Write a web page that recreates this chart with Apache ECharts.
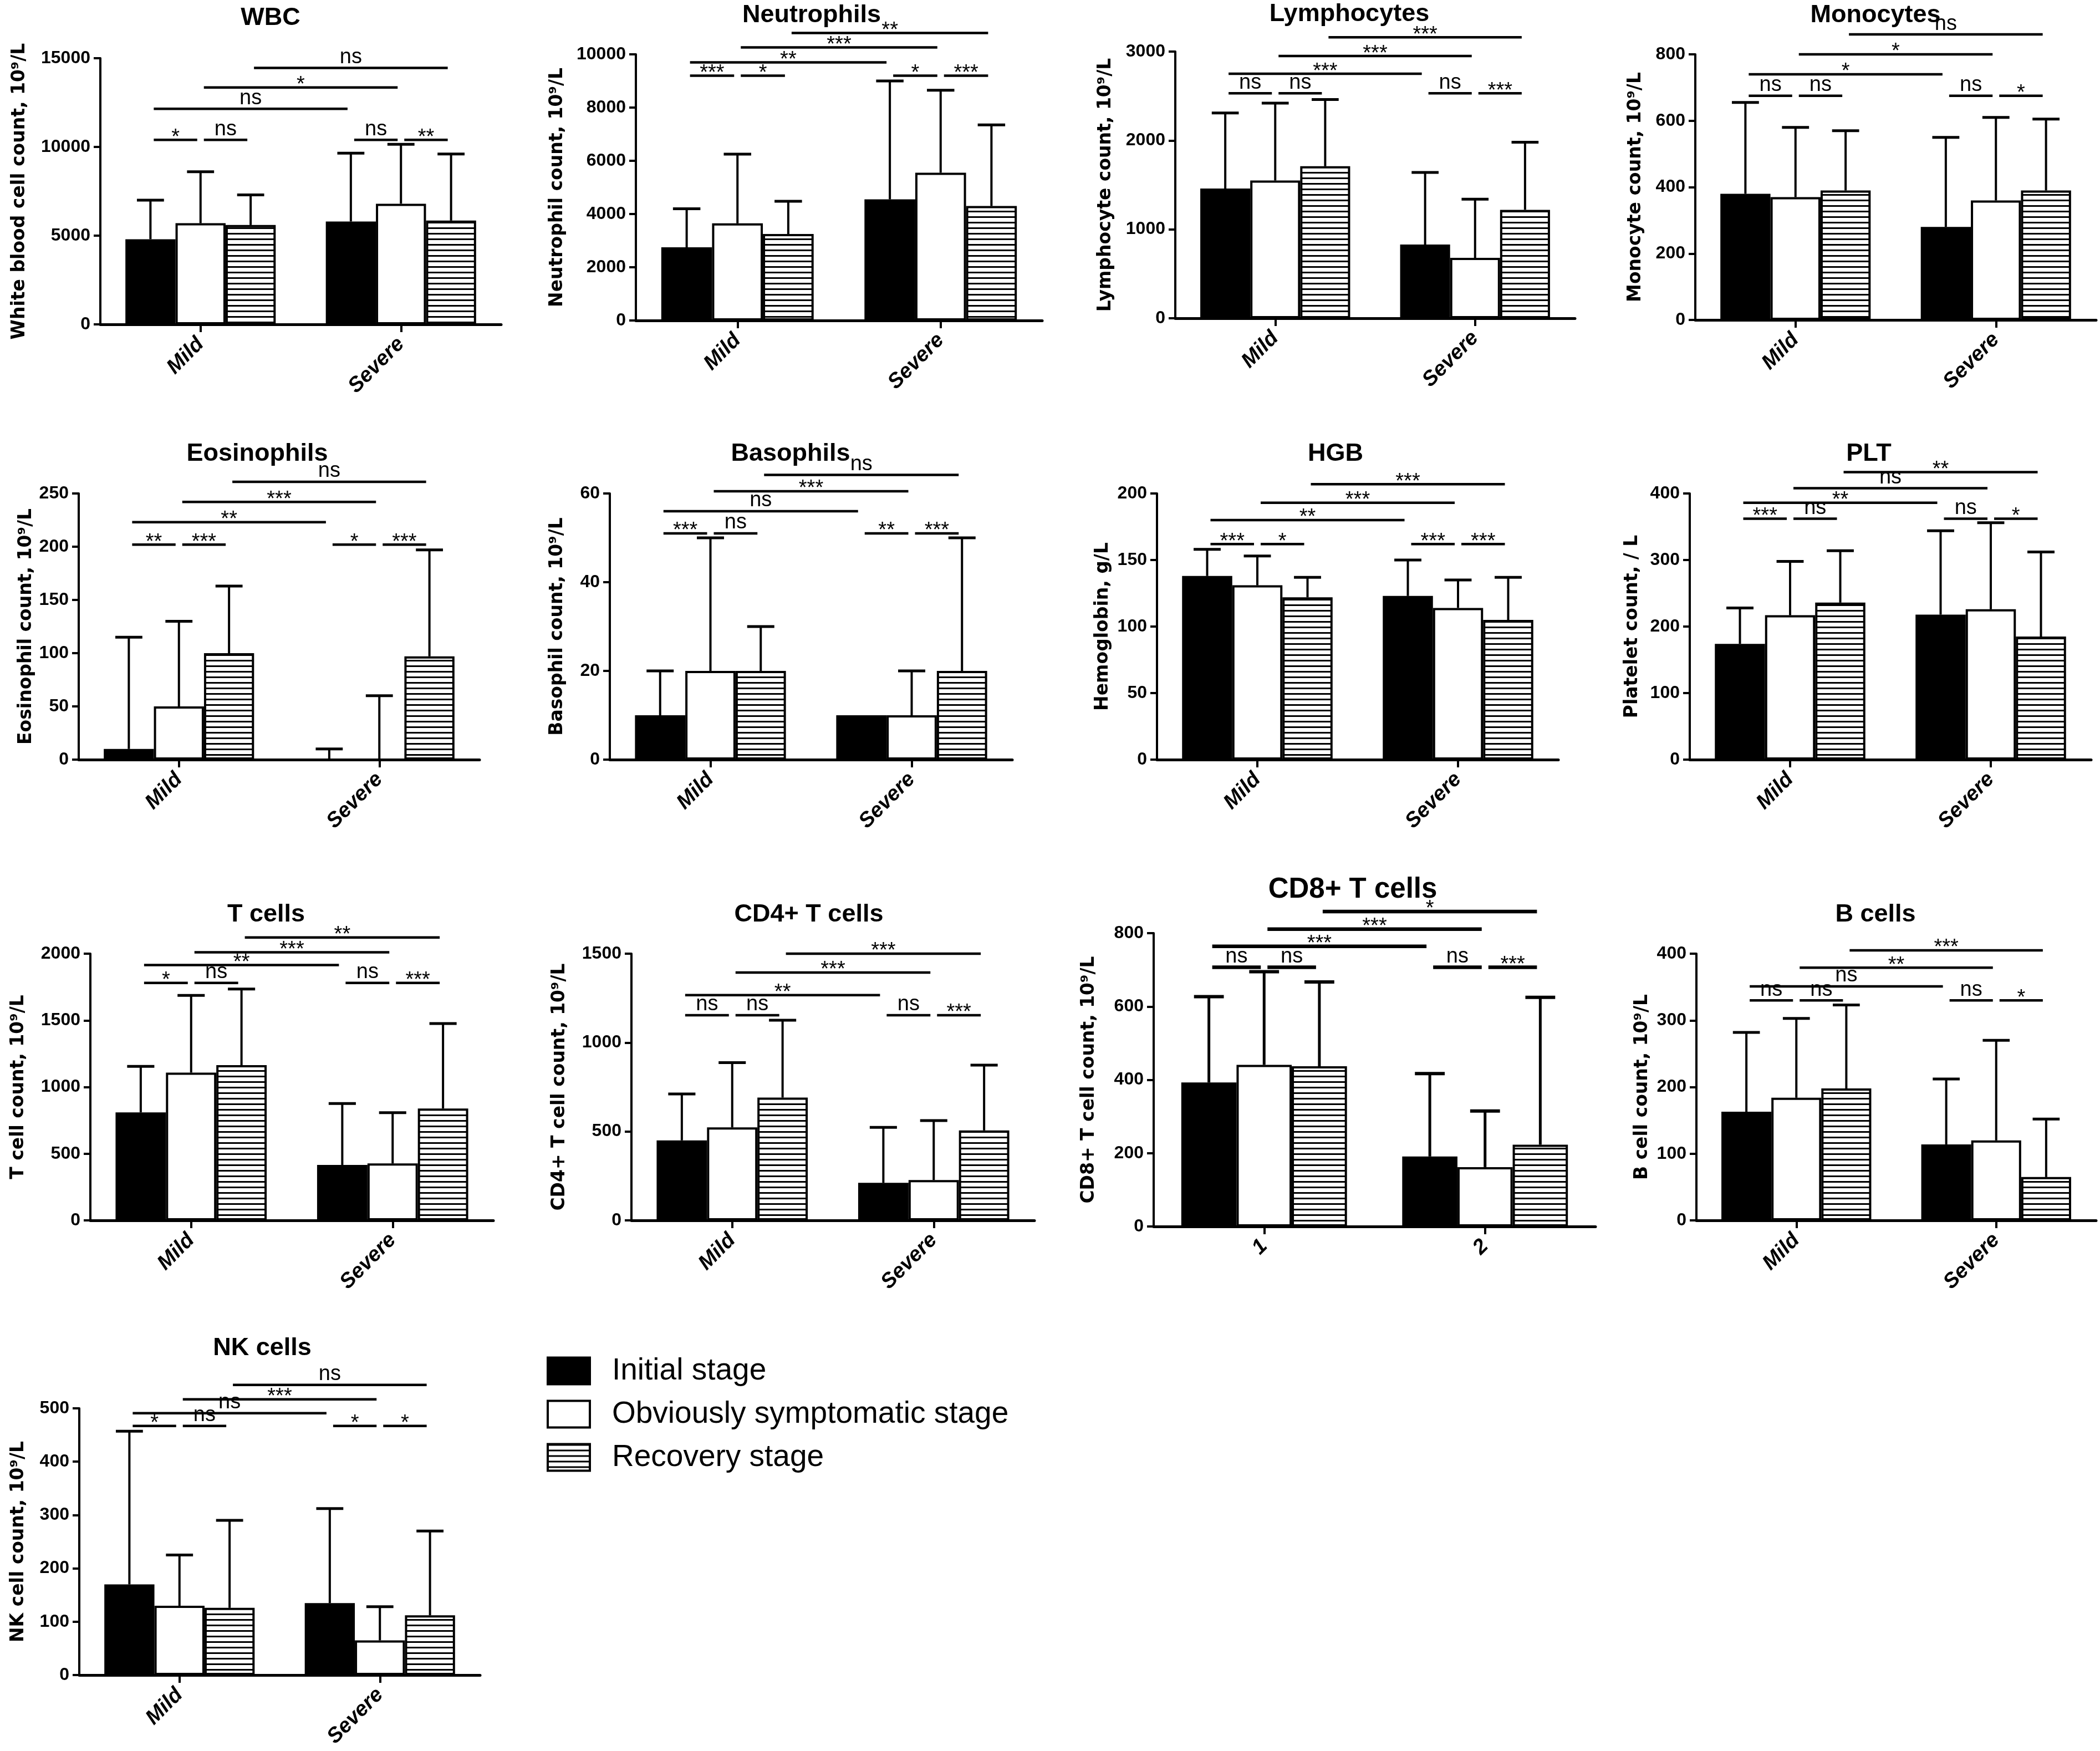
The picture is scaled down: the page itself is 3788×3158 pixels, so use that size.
<!DOCTYPE html>
<html><head><meta charset="utf-8">
<script src="https://cdn.jsdelivr.net/npm/echarts@6/dist/echarts.min.js"></script>
<style>html,body{margin:0;padding:0;background:#fff}#c{width:3788px;height:3158px}</style>
</head><body><div id="c"></div>
<script>
// ---------------- DATA ----------------
const stageNames = ['Initial stage', 'Obviously symptomatic stage', 'Recovery stage'];
const severityCats = ['Mild', 'Severe'];
const cd8Cats = ['1', '2'];

// mean values: [group][stage]; upper error ends: [group][stage]; sig: [barA, barB, level, label]
const wbcTicks = [0, 5000, 10000, 15000];
const wbcMean = [[4800, 5700, 5600], [5800, 6800, 5850]];
const wbcUpper = [[7000, 8600, 7300], [9650, 10150, 9600]];
const wbcSig = [[0,1,10400,'*'],[1,2,10400,'ns'],[3,4,10400,'ns'],[4,5,10400,'**'],[0,3,12150,'ns'],[1,4,13350,'*'],[2,5,14450,'ns']];

const neuTicks = [0, 2000, 4000, 6000, 8000, 10000];
const neuMean = [[2750, 3650, 3250], [4550, 5550, 4300]];
const neuUpper = [[4200, 6250, 4480], [9000, 8650, 7350]];
const neuSig = [[0,1,9200,'***'],[1,2,9200,'*'],[3,4,9200,'*'],[4,5,9200,'***'],[0,3,9700,'**'],[1,4,10260,'***'],[2,5,10800,'**']];

const lymTicks = [0, 1000, 2000, 3000];
const lymMean = [[1460, 1550, 1710], [830, 680, 1220]];
const lymUpper = [[2310, 2420, 2460], [1640, 1340, 1980]];
const lymSig = [[0,1,2530,'ns'],[1,2,2530,'ns'],[3,4,2530,'ns'],[4,5,2530,'***'],[0,3,2750,'***'],[1,4,2950,'***'],[2,5,3160,'***']];

const monTicks = [0, 200, 400, 600, 800];
const monMean = [[380, 370, 390], [280, 360, 390]];
const monUpper = [[655, 580, 570], [550, 610, 605]];
const monSig = [[0,1,675,'ns'],[1,2,675,'ns'],[3,4,675,'ns'],[4,5,675,'*'],[0,3,740,'*'],[1,4,800,'*'],[2,5,860,'ns']];

const eosTicks = [0, 50, 100, 150, 200, 250];
const eosMean = [[10, 50, 100], [0, 0, 97]];
const eosUpper = [[115, 130, 163], [10, 60, 197]];
const eosSig = [[0,1,202,'**'],[1,2,202,'***'],[3,4,202,'*'],[4,5,202,'***'],[0,3,223,'**'],[1,4,242,'***'],[2,5,261,'ns']];

const basTicks = [0, 20, 40, 60];
const basMean = [[10, 20, 20], [10, 10, 20]];
const basUpper = [[20, 50, 30], [null, 20, 50]];
const basSig = [[0,1,51,'***'],[1,2,51,'ns'],[3,4,51,'**'],[4,5,51,'***'],[0,3,56,'ns'],[1,4,60.5,'***'],[2,5,64.2,'ns']];

const hgbTicks = [0, 50, 100, 150, 200];
const hgbMean = [[138, 131, 122], [123, 114, 105]];
const hgbUpper = [[158, 153, 137], [150, 135, 137]];
const hgbSig = [[0,1,162,'***'],[1,2,162,'*'],[3,4,162,'***'],[4,5,162,'***'],[0,3,180,'**'],[1,4,193,'***'],[2,5,207,'***']];

const pltTicks = [0, 100, 200, 300, 400];
const pltMean = [[174, 217, 236], [218, 226, 185]];
const pltUpper = [[228, 298, 314], [344, 356, 312]];
const pltSig = [[0,1,362,'***'],[1,2,362,'ns'],[3,4,362,'ns'],[4,5,362,'*'],[0,3,386,'**'],[1,4,408,'ns'],[2,5,432,'**']];

const tTicks = [0, 500, 1000, 1500, 2000];
const tMean = [[810, 1108, 1164], [416, 427, 839]];
const tUpper = [[1155, 1687, 1735], [876, 808, 1476]];
const tSig = [[0,1,1781,'*'],[1,2,1781,'ns'],[3,4,1781,'ns'],[4,5,1781,'***'],[0,3,1915,'**'],[1,4,2010,'***'],[2,5,2122,'**']];

const cd4Ticks = [0, 500, 1000, 1500];
const cd4Mean = [[450, 523, 691], [211, 227, 506]];
const cd4Upper = [[711, 887, 1126], [523, 561, 873]];
const cd4Sig = [[0,1,1154,'ns'],[1,2,1154,'ns'],[3,4,1154,'ns'],[4,5,1154,'***'],[0,3,1267,'**'],[1,4,1394,'***'],[2,5,1500,'***']];

const cd8Ticks = [0, 200, 400, 600, 800];
const cd8Mean = [[393, 441, 437], [191, 162, 223]];
const cd8Upper = [[627, 695, 667], [417, 315, 625]];
const cd8Sig = [[0,1,707,'ns'],[1,2,707,'ns'],[3,4,707,'ns'],[4,5,707,'***'],[0,3,764,'***'],[1,4,811,'***'],[2,5,859,'*']];

const bTicks = [0, 100, 200, 300, 400];
const bMean = [[163, 184, 198], [114, 120, 65]];
const bUpper = [[282, 303, 323], [212, 270, 152]];
const bSig = [[0,1,330,'ns'],[1,2,330,'ns'],[3,4,330,'ns'],[4,5,330,'*'],[0,3,351,'ns'],[1,4,379,'**'],[2,5,405,'***']];

const nkTicks = [0, 100, 200, 300, 400, 500];
const nkMean = [[170, 130, 126], [135, 65, 112]];
const nkUpper = [[457, 225, 290], [312, 128, 270]];
const nkSig = [[0,1,467,'*'],[1,2,467,'ns'],[3,4,467,'*'],[4,5,467,'*'],[0,3,491,'ns'],[1,4,517,'***'],[2,5,544,'ns']];

// ---------------- LAYOUT ----------------
const panels = [
  {title:'WBC', ylab:'White blood cell count, 10⁹/L', cats:severityCats, ticks:wbcTicks, mean:wbcMean, upper:wbcUpper, sig:wbcSig, box:[181,105,904,585], tpos:[488,33], gap:130},
  {title:'Neutrophils', ylab:'Neutrophil count, 10⁹/L', cats:severityCats, ticks:neuTicks, mean:neuMean, upper:neuUpper, sig:neuSig, box:[1147,98,1880,578], tpos:[1464,28], gap:126},
  {title:'Lymphocytes', ylab:'Lymphocyte count, 10⁹/L', cats:severityCats, ticks:lymTicks, mean:lymMean, upper:lymUpper, sig:lymSig, box:[2120,93,2841,574], tpos:[2434,26], gap:110},
  {title:'Monocytes', ylab:'Monocyte count, 10⁹/L', cats:severityCats, ticks:monTicks, mean:monMean, upper:monUpper, sig:monSig, box:[3058,98,3781,577], tpos:[3383,28], gap:92},
  {title:'Eosinophils', ylab:'Eosinophil count, 10⁹/L', cats:severityCats, ticks:eosTicks, mean:eosMean, upper:eosUpper, sig:eosSig, box:[142,890,865,1370], tpos:[464,819], gap:79},
  {title:'Basophils', ylab:'Basophil count, 10⁹/L', cats:severityCats, ticks:basTicks, mean:basMean, upper:basUpper, sig:basSig, box:[1100,890,1826,1370], tpos:[1426,819], gap:79},
  {title:'HGB', ylab:'Hemoglobin, g/L', cats:severityCats, ticks:hgbTicks, mean:hgbMean, upper:hgbUpper, sig:hgbSig, box:[2087,890,2811,1370], tpos:[2409,819], gap:82},
  {title:'PLT', ylab:'Platelet count, / L', cats:severityCats, ticks:pltTicks, mean:pltMean, upper:pltUpper, sig:pltSig, box:[3048,890,3772,1370], tpos:[3371,819], gap:88},
  {title:'T cells', ylab:'T cell count, 10⁹/L', cats:severityCats, ticks:tTicks, mean:tMean, upper:tUpper, sig:tSig, box:[163,1720,890,2201], tpos:[480,1650], gap:114},
  {title:'CD4+ T cells', ylab:'CD4+ T cell count, 10⁹/L', cats:severityCats, ticks:cd4Ticks, mean:cd4Mean, upper:cd4Upper, sig:cd4Sig, box:[1139,1720,1866,2201], tpos:[1459,1650], gap:114},
  {title:'CD8+ T cells', ylab:'CD8+ T cell count, 10⁹/L', cats:cd8Cats, ticks:cd8Ticks, mean:cd8Mean, upper:cd8Upper, sig:cd8Sig, box:[2081,1683,2878,2212], tpos:[2440,1605], gap:101, bold:true},
  {title:'B cells', ylab:'B cell count, 10⁹/L', cats:severityCats, ticks:bTicks, mean:bMean, upper:bUpper, sig:bSig, box:[3060,1720,3781,2201], tpos:[3383,1650], gap:82},
  {title:'NK cells', ylab:'NK cell count, 10⁹/L', cats:severityCats, ticks:nkTicks, mean:nkMean, upper:nkUpper, sig:nkSig, box:[143,2540,866,3021], tpos:[473,2432], gap:94}
];

const CAT_GAP = 0.25;
const FONT = '"Liberation Sans", Arial, sans-serif';

// hatch pattern
const pc = document.createElement('canvas');
pc.width = 10; pc.height = 10;
const pctx = pc.getContext('2d');
pctx.fillStyle = '#fff'; pctx.fillRect(0, 0, 10, 10);
pctx.fillStyle = '#000'; pctx.fillRect(0, 0, 10, 3);
const hatch = { image: pc, repeat: 'repeat' };

const stageStyles = [
  { color: '#000', borderColor: '#000', borderWidth: 4 },
  { color: '#fff', borderColor: '#000', borderWidth: 4 },
  { color: hatch, borderColor: '#000', borderWidth: 4 }
];

function errRender(lw) {
  return function (params, api) {
    const cat = api.value(0), st = api.value(1), mean = api.value(2), up = api.value(3);
    const p0 = api.coord([cat, mean]);
    const p1 = api.coord([cat, up]);
    const band = api.size([1, 0])[0];
    const bw = band * (1 - CAT_GAP) / 3;
    const x = p0[0] + (st - 1) * bw;
    const half = bw * 0.27;
    return { type: 'group', children: [
      { type: 'line', shape: { x1: x, y1: p0[1], x2: x, y2: p1[1] }, style: { stroke: '#000', lineWidth: lw } },
      { type: 'line', shape: { x1: x - half, y1: p1[1], x2: x + half, y2: p1[1] }, style: { stroke: '#000', lineWidth: lw + 1 } }
    ]};
  };
}

function sigRender(sig, lw) {
  return function (params, api) {
    const s = sig[params.dataIndex];
    const band = api.size([1, 0])[0];
    const bw = band * (1 - CAT_GAP) / 3;
    const pa = api.coord([Math.floor(s[0] / 3), s[2]]);
    const pb = api.coord([Math.floor(s[1] / 3), s[2]]);
    const xa = pa[0] + (s[0] % 3 - 1) * bw + 6;
    const xb = pb[0] + (s[1] % 3 - 1) * bw - 6;
    const y = pa[1];
    const isStar = s[3] !== 'ns';
    const ty = isStar ? y - 4 : y - 19;
    return { type: 'group', children: [
      { type: 'line', shape: { x1: xa, y1: y, x2: xb, y2: y }, style: { stroke: '#000', lineWidth: lw } },
      { type: 'text', x: (xa + xb) / 2, y: ty, style: { text: s[3], font: '38px ' + FONT, fill: '#000',
        textAlign: 'center', align: 'center', textVerticalAlign: 'middle', verticalAlign: 'middle' } }
    ]};
  };
}

const grids = [], xAxes = [], yAxes = [], series = [], graphics = [];
panels.forEach((p, i) => {
  const [L, T, R, B] = p.box;
  grids.push({ left: L, top: T, width: R - L, height: B - T, containLabel: false });
  xAxes.push({
    gridIndex: i, type: 'category', data: p.cats,
    axisLine: { show: true, onZero: true, lineStyle: { color: '#000', width: 5 } },
    axisTick: { show: true, alignWithLabel: true, length: 14, lineStyle: { color: '#000', width: 4 } },
    axisLabel: { rotate: 45, fontSize: 38, fontWeight: 'bold', fontStyle: 'italic', fontFamily: FONT, color: '#000', margin: 30 },
    splitLine: { show: false }
  });
  const tk = p.ticks;
  yAxes.push({
    gridIndex: i, type: 'value', min: 0, max: tk[tk.length - 1], interval: tk[1] - tk[0],
    axisLine: { show: true, lineStyle: { color: '#000', width: 4 } },
    axisTick: { show: true, length: 12, lineStyle: { color: '#000', width: 4 } },
    axisLabel: { fontSize: 32, fontWeight: 'bold', fontFamily: FONT, color: '#000', margin: 18, formatter: v => String(v) },
    splitLine: { show: false },
    name: p.ylab, nameLocation: 'middle', nameGap: p.gap - 1, nameRotate: 90,
    nameTextStyle: { fontSize: 33, fontWeight: 'bold', fontFamily: '"DejaVu Sans", sans-serif', color: '#000' }
  });
  for (let s = 0; s < 3; s++) {
    series.push({
      type: 'bar', name: stageNames[s], xAxisIndex: i, yAxisIndex: i,
      data: p.mean.map(g => g[s]),
      barGap: '0%', barCategoryGap: (CAT_GAP * 100) + '%',
      itemStyle: stageStyles[s], emphasis: { disabled: true }, silent: true, z: 2
    });
  }
  const lw = p.bold ? 5 : 4;
  const errData = [];
  p.mean.forEach((g, gi) => g.forEach((m, s) => {
    const u = p.upper[gi][s];
    if (u !== null && u !== undefined) errData.push([gi, s, m, u]);
  }));
  series.push({
    type: 'custom', xAxisIndex: i, yAxisIndex: i, silent: true, z: 4,
    dimensions: ['cat', 'st', 'mean', 'up'], encode: { x: 0, y: [2, 3] },
    data: errData, renderItem: errRender(lw)
  });
  series.push({
    type: 'custom', xAxisIndex: i, yAxisIndex: i, silent: true, z: 5, clip: false,
    encode: { x: 0, y: 1 },
    data: p.sig.map(s => [Math.floor(s[0] / 3), s[2]]),
    renderItem: sigRender(p.sig, p.bold ? 6.5 : 4.5)
  });
  graphics.push({
    type: 'text', x: p.tpos[0], y: p.tpos[1], silent: true,
    style: { text: p.title, font: 'bold ' + (p.bold ? 51 : 45) + 'px ' + FONT, fill: '#000',
      textAlign: 'center', align: 'center', textVerticalAlign: 'middle', verticalAlign: 'middle' }
  });
});

const chart = echarts.init(document.getElementById('c'), null, { renderer: 'canvas', width: 3788, height: 3158 });
chart.setOption({
  backgroundColor: '#fff',
  animation: false,
  grid: grids, xAxis: xAxes, yAxis: yAxes, series: series,
  graphic: graphics,
  legend: {
    data: stageNames, orient: 'vertical', left: 981, top: 2440,
    itemWidth: 76, itemHeight: 48, itemGap: 23, selectedMode: false, icon: 'rect',
    itemStyle: { borderColor: '#000', borderWidth: 4 },
    textStyle: { fontSize: 55, fontFamily: FONT, color: '#000', padding: [0, 0, 0, 35] }
  }
});
</script></body></html>
